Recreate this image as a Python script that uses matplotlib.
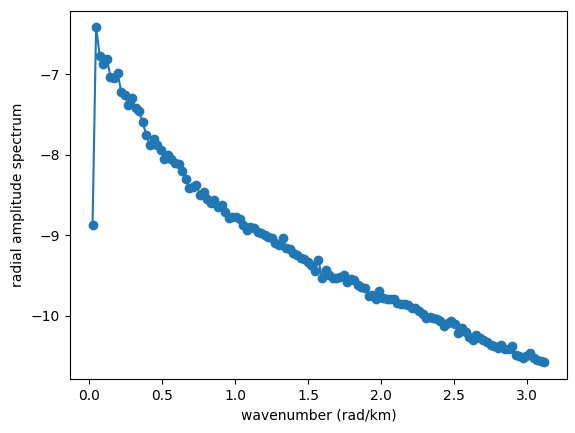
import numpy as np
import matplotlib
matplotlib.use('Agg')
import matplotlib.pyplot as plt

# radial wavenumber bins (rad/km)
wavenumber = [
    0.025, 0.049, 0.074, 0.098, 0.123, 0.147, 0.172, 0.196, 0.221, 0.245,
    0.270, 0.295, 0.319, 0.344, 0.368, 0.393, 0.417, 0.442, 0.466, 0.491,
    0.515, 0.540, 0.565, 0.589, 0.614, 0.638, 0.663, 0.687, 0.712, 0.736,
    0.761, 0.785, 0.810, 0.834, 0.859, 0.884, 0.908, 0.933, 0.957, 0.982,
    1.006, 1.031, 1.055, 1.080, 1.104, 1.129, 1.154, 1.178, 1.203, 1.227,
    1.252, 1.276, 1.301, 1.325, 1.350, 1.374, 1.399, 1.424, 1.448, 1.473,
    1.497, 1.522, 1.546, 1.571, 1.595, 1.620, 1.644, 1.669, 1.694, 1.718,
    1.743, 1.767, 1.792, 1.816, 1.841, 1.865, 1.890, 1.914, 1.939, 1.963,
    1.988, 2.013, 2.037, 2.062, 2.086, 2.111, 2.135, 2.160, 2.184, 2.209,
    2.233, 2.258, 2.283, 2.307, 2.332, 2.356, 2.381, 2.405, 2.430, 2.454,
    2.479, 2.503, 2.528, 2.553, 2.577, 2.602, 2.626, 2.651, 2.675, 2.700,
    2.724, 2.749, 2.773, 2.798, 2.822, 2.847, 2.872, 2.896, 2.921, 2.945,
    2.970, 2.994, 3.019, 3.043, 3.068, 3.092, 3.117,
]

# log radial amplitude spectrum
spectrum = [
    -8.87, -6.42, -6.77, -6.88, -6.81, -7.03, -7.05, -6.98, -7.22, -7.26,
    -7.38, -7.30, -7.42, -7.46, -7.60, -7.76, -7.88, -7.80, -7.88, -7.94,
    -8.05, -8.00, -8.05, -8.10, -8.12, -8.20, -8.30, -8.42, -8.40, -8.38,
    -8.50, -8.46, -8.55, -8.60, -8.56, -8.65, -8.63, -8.71, -8.79, -8.78,
    -8.77, -8.80, -8.87, -8.94, -8.90, -8.91, -8.96, -8.98, -9.00, -9.02,
    -9.04, -9.10, -9.12, -9.04, -9.16, -9.17, -9.22, -9.25, -9.28, -9.30,
    -9.33, -9.37, -9.45, -9.31, -9.53, -9.43, -9.50, -9.53, -9.53, -9.52,
    -9.49, -9.58, -9.55, -9.56, -9.62, -9.64, -9.66, -9.76, -9.75, -9.80,
    -9.70, -9.78, -9.80, -9.80, -9.80, -9.84, -9.85, -9.86, -9.87, -9.90,
    -9.91, -9.94, -9.98, -10.03, -10.02, -10.03, -10.04, -10.07, -10.13, -10.09,
    -10.07, -10.10, -10.22, -10.16, -10.20, -10.26, -10.30, -10.24, -10.28, -10.30,
    -10.33, -10.36, -10.38, -10.40, -10.36, -10.42, -10.42, -10.38, -10.49, -10.50,
    -10.53, -10.50, -10.47, -10.53, -10.55, -10.57, -10.58,
]

fig = plt.figure(figsize=(5.75, 4.33), dpi=100)
fig.subplots_adjust(left=0.1217, right=0.9861, bottom=0.1247, top=0.9753)
ax = fig.add_subplot(111)
ax.plot(wavenumber, spectrum, '-o')
ax.set_xlabel('wavenumber (rad/km)')
ax.set_ylabel('radial amplitude spectrum')
fig.savefig('out.png')
